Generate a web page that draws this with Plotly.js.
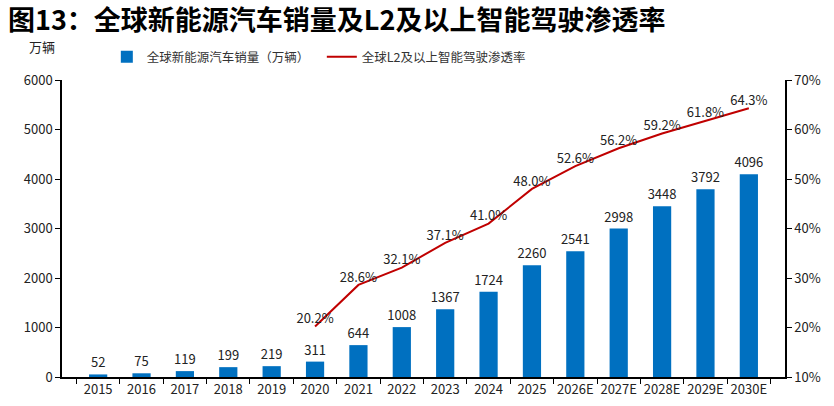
<!DOCTYPE html>
<html><head><meta charset="utf-8">
<script src="https://cdn.plot.ly/plotly-3.0.1.min.js"></script>
<style>body{margin:0;background:#fff}#c{width:834px;height:406px}</style>
</head><body><div id="c"></div>
<script>
const years = ['2015','2016','2017','2018','2019','2020','2021','2022','2023','2024','2025','2026E','2027E','2028E','2029E','2030E'];
const sales = [52,75,119,199,219,311,644,1008,1367,1724,2260,2541,2998,3448,3792,4096];
const penetration = [null,null,null,null,null,20.2,28.6,32.1,37.1,41.0,48.0,52.6,56.2,59.2,61.8,64.3];
const leftTicks = [0,1000,2000,3000,4000,5000,6000];
const rightTicks = [10,20,30,40,50,60,70];

const F = '"Noto Sans CJK SC", "Noto Sans", sans-serif';
const data = [
  {type:'bar', x:years, y:sales, name:'全球新能源汽车销量（万辆）', marker:{color:'#0070C0'}, width:0.42,
   text:sales.map(String), textposition:'outside', constraintext:'none', cliponaxis:false, textfont:{family:F,size:13,color:'#222'}},
  {type:'scatter', mode:'lines+text', x:years, y:penetration, yaxis:'y2', name:'全球L2及以上智能驾驶渗透率',
   line:{color:'#C00000',width:2}, text:penetration.map(v=>v==null?'':v.toFixed(1)+'%'), textposition:'top center',
   cliponaxis:false, textfont:{family:F,size:13,color:'#222'}}
];
const layout = {
  width:834, height:406, margin:{l:62,r:49,t:80,b:29}, bargap:0.58,
  paper_bgcolor:'#fff', plot_bgcolor:'#fff', font:{family:F,size:13,color:'#222'},
  showlegend:true,
  legend:{orientation:'h', x:0.062, y:1-57/406, xanchor:'left', yanchor:'middle', yref:'container',
          font:{family:F,size:12.5,color:'#333'}, traceorder:'normal', entrywidth:170},
  xaxis:{type:'category', tickson:'boundaries', ticks:'outside', ticklen:5, tickcolor:'#000', showline:true, linecolor:'#000', linewidth:1.5,
         tickangle:0, tickfont:{family:F,size:13,color:'#222'}, showgrid:false},
  yaxis:{range:[0,6000], tickvals:leftTicks, ticks:'outside', ticklen:5, tickcolor:'#000', showline:true, linecolor:'#000', linewidth:1.5,
         showgrid:false, zeroline:false, tickfont:{family:F,size:13,color:'#222'}},
  yaxis2:{overlaying:'y', side:'right', range:[10,70], tickvals:rightTicks, ticktext:rightTicks.map(v=>v+'%'), ticks:'outside', ticklen:5,
          tickcolor:'#000', showline:true, linecolor:'#000', linewidth:1.5, showgrid:false, zeroline:false, tickfont:{family:F,size:13,color:'#222'}},
  annotations:[
    {text:'<b>图13：全球新能源汽车销量及L2及以上智能驾驶渗透率</b>', xref:'paper', yref:'paper', x:0, y:(377-19)/297, xanchor:'left', yanchor:'middle',
     xshift:-56, showarrow:false, font:{family:F,size:27,color:'#000'}},
    {text:'万辆', xref:'paper', yref:'paper', x:0, y:(377-46)/297, xanchor:'center', yanchor:'middle', xshift:-20, showarrow:false,
     font:{family:F,size:13,color:'#222'}}
  ]
};
Plotly.newPlot('c', data, layout, {displayModeBar:false});
</script></body></html>
